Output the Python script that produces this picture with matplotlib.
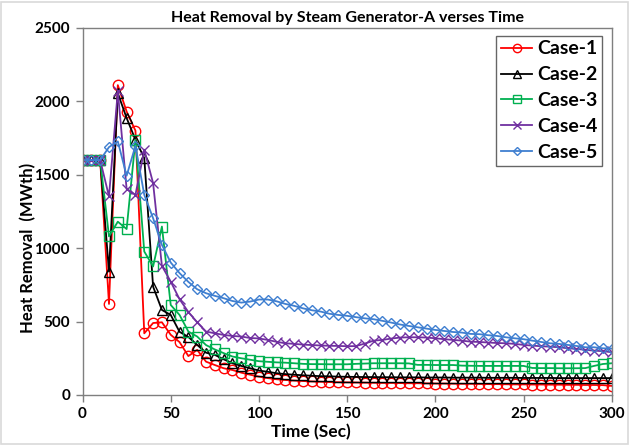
import matplotlib
matplotlib.use("Agg")
import matplotlib.pyplot as plt
from matplotlib.patches import Rectangle

plt.rcParams['font.family'] = ['Lato', 'DejaVu Sans']
plt.rcParams['font.weight'] = 'bold'

time_sec = list(range(0, 305, 5))

case1 = [1600, 1600, 1600, 620, 2110, 1930, 1800, 420, 490, 495,
         410, 360, 265, 307, 227, 204, 182, 170, 152, 138,
         125, 115, 107, 102, 98, 95, 92, 90, 88, 87,
         86, 85, 84, 83, 82, 82, 81, 80, 80, 79,
         78, 78, 77, 76, 76, 75, 74, 74, 73, 72,
         72, 71, 71, 70, 70, 69, 69, 68, 68, 67, 62]

case2 = [1600, 1600, 1600, 840, 2055, 1886, 1738, 1613, 738, 579,
         545, 430, 395, 341, 288, 273, 243, 216, 198, 182,
         166, 158, 148, 142, 138, 134, 131, 128, 127, 125,
         124, 123, 122, 122, 121, 121, 120, 120, 120, 119,
         119, 119, 118, 118, 118, 118, 117, 117, 117, 117,
         116, 116, 116, 116, 115, 115, 115, 115, 115, 115, 115]

case3 = [1600, 1600, 1600, 1080, 1180, 1130, 1738, 977, 875, 1147,
         613, 545, 432, 398, 340, 310, 285, 262, 250, 240,
         230, 226, 222, 220, 216, 212, 210, 210, 209, 209,
         209, 212, 214, 216, 216, 216, 216, 215, 205, 205,
         204, 204, 204, 200, 199, 198, 198, 198, 198, 198,
         198, 184, 183, 183, 182, 182, 182, 183, 198, 211, 216]

case4 = [1600, 1600, 1600, 1352, 2068, 1402, 1363, 1670, 1443, 879,
         772, 652, 565, 495, 432, 420, 409, 402, 398, 388,
         385, 375, 362, 352, 348, 343, 340, 337, 335, 334,
         332, 333, 350, 370, 375, 384, 391, 393, 393, 391,
         386, 380, 375, 370, 363, 361, 357, 354, 352, 348,
         341, 336, 332, 329, 325, 318, 314, 307, 302, 298, 291]

case5 = [1600, 1600, 1600, 1688, 1727, 1493, 1697, 1363, 1204, 1022,
         902, 830, 770, 720, 693, 675, 659, 640, 629, 636,
         650, 650, 638, 620, 607, 590, 577, 568, 553, 545,
         539, 530, 522, 516, 505, 493, 480, 470, 461, 452,
         443, 436, 429, 425, 416, 414, 407, 402, 393, 386,
         380, 370, 361, 352, 348, 341, 334, 325, 325, 318, 316]

series = [
    ("Case-1", case1, "#FF0000", "o", 7.5),
    ("Case-2", case2, "#000000", "^", 7.5),
    ("Case-3", case3, "#00B050", "s", 7.5),
    ("Case-4", case4, "#7030A0", "x", 6.5),
    ("Case-5", case5, "#3F7FD0", "D", 5.5),
]

x_ticks = [0, 50, 100, 150, 200, 250, 300]
y_ticks = [0, 500, 1000, 1500, 2000, 2500]

fig = plt.figure(figsize=(6.3, 4.45), dpi=100)
ax = fig.add_axes([0.131, 0.1124, 0.840, 0.825])

for name, vals, col, mk, ms in series:
    ax.plot(time_sec, vals, color=col, marker=mk, markersize=ms,
            markerfacecolor='none', markeredgecolor=col, markeredgewidth=1.0,
            linewidth=1.3, label=name)

ax.set_xlim(0, 300)
ax.set_ylim(0, 2500)
ax.set_xticks(x_ticks)
ax.set_yticks(y_ticks)
ax.tick_params(direction='out', length=5, width=1, color='#7F7F7F',
               labelsize=11, pad=4)
for lab in ax.get_xticklabels() + ax.get_yticklabels():
    lab.set_fontweight('bold')
for sp in ax.spines.values():
    sp.set_color('#7F7F7F')
    sp.set_linewidth(1.0)

ax.set_title("Heat Removal by Steam Generator-A verses Time",
             fontsize=11.5, fontweight='bold', pad=4)

fig.text(28 / 630, 1 - 248 / 445, "Heat Removal  (MWth)", rotation=90,
         ha='center', va='center', fontsize=12, fontweight='bold')
fig.text(311 / 630, 1 - 432 / 445, "Time (Sec)", ha='center', va='center',
         fontsize=12.5, fontweight='bold')

leg = ax.legend(loc='upper right', bbox_to_anchor=(0.993, 0.995),
                fontsize=14, frameon=True, fancybox=False,
                handlelength=1.6, handletextpad=0.25, labelspacing=0.46,
                borderpad=0.25, borderaxespad=0.3, markerscale=0.8)
leg.get_frame().set_edgecolor('#404040')
leg.get_frame().set_linewidth(1.0)
for t in leg.get_texts():
    t.set_fontweight('bold')

fig.patches.append(Rectangle((0.002, 0.003), 0.995, 0.993,
                             transform=fig.transFigure, fill=False,
                             edgecolor='#D9D9D9', linewidth=1.2))

fig.savefig("out.png", dpi=100)
